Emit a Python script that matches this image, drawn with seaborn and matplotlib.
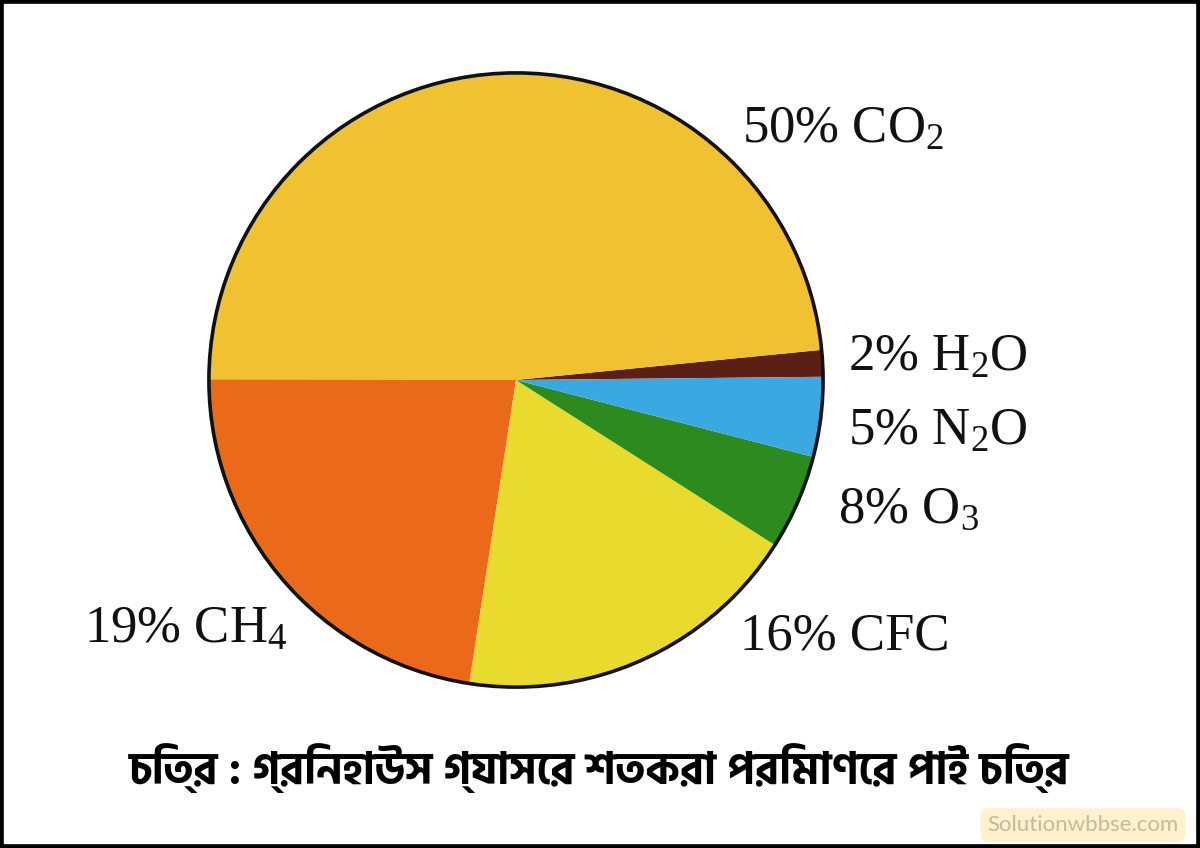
import matplotlib
matplotlib.use("Agg")
import matplotlib.pyplot as plt
import matplotlib.patches as mpatches
from matplotlib import font_manager
import seaborn as sns

# slice shares as drawn in the picture (percent of the circle), in drawing order
gases = ["H2O", "CO2", "CH4", "CFC", "O3", "N2O"]
shares = [1.4, 48.4, 22.6, 18.4, 5.0, 4.2]
colors = ["#5B1F16", "#F0C232", "#EA6A1A", "#E9DA2E", "#2C8A1F", "#3AA9E1"]

# printed labels
label_text = {
    "CO2": "50% CO$_2$",
    "H2O": "2% H$_2$O",
    "N2O": "5% N$_2$O",
    "O3": "8% O$_3$",
    "CFC": "16% CFC",
    "CH4": "19% CH$_4$",
}
caption = "চিত্র : গ্রিনহাউস গ্যাসের শতকরা পরিমাণের পাই চিত্র"
watermark = "Solutionwbbse.com"

sns.set_theme(style="white")
plt.rcParams["font.family"] = ["Liberation Serif", "DejaVu Serif"]
plt.rcParams["mathtext.fontset"] = "custom"
plt.rcParams["mathtext.rm"] = "Liberation Serif"
plt.rcParams["mathtext.it"] = "Liberation Serif"

# font with bengali glyphs
names = {f.name for f in font_manager.fontManager.ttflist}
bn_font = "Hind Siliguri" if "Hind Siliguri" in names else None
if bn_font is None:
    for n in sorted(names):
        if "Bengali" in n:
            bn_font = n
            break

fig = plt.figure(figsize=(12, 8.48), dpi=100)
fig.patch.set_facecolor("white")

# pie centre ~ (516, 380) px, radius ~307 px
cx, cy, half = 516, 380, 312
ax = fig.add_axes([(cx - half) / 1200, 1 - (cy + half) / 848, 2 * half / 1200, 2 * half / 848])
ax.pie(shares, colors=colors, startangle=0.6, counterclock=True,
       wedgeprops=dict(edgecolor="none", linewidth=0))
ax.add_patch(mpatches.Circle((0, 0), 1.0, fill=False, edgecolor="#111111",
                             linewidth=2.6, clip_on=False))
ax.set_xlim(-1.016, 1.016)
ax.set_ylim(-1.016, 1.016)
ax.set_aspect("equal")
ax.axis("off")

# label anchors (left edge, vertical centre) in pixels
label_pos = {
    "CO2": (742, 130),
    "H2O": (848, 358),
    "N2O": (848, 432),
    "O3": (838, 510),
    "CFC": (740, 636),
    "CH4": (84, 630),
}
for g in gases:
    x, y = label_pos[g]
    fig.text(x / 1200, 1 - y / 848, label_text[g], fontsize=38,
             ha="left", va="center", color="#111111")

cap_family = [bn_font, "DejaVu Sans"] if bn_font else ["Noto Sans", "DejaVu Sans"]
fig.text(599 / 1200, 1 - 768 / 848, caption, fontsize=32, fontweight="bold",
         ha="center", va="center", color="black", family=cap_family)

fig.text(1083 / 1200, 1 - 825 / 848, watermark, fontsize=16, color="#C4BA9C",
         ha="center", va="center", family=["Lato", "DejaVu Sans"],
         bbox=dict(boxstyle="round,pad=0.3", fc="#FDF2CC", ec="none"))

# black frame round the picture
fig.patches.append(mpatches.Rectangle((0, 0), 1, 1, transform=fig.transFigure,
                                      fill=False, edgecolor="black", linewidth=5.5))

fig.savefig("out.png", dpi=100)
